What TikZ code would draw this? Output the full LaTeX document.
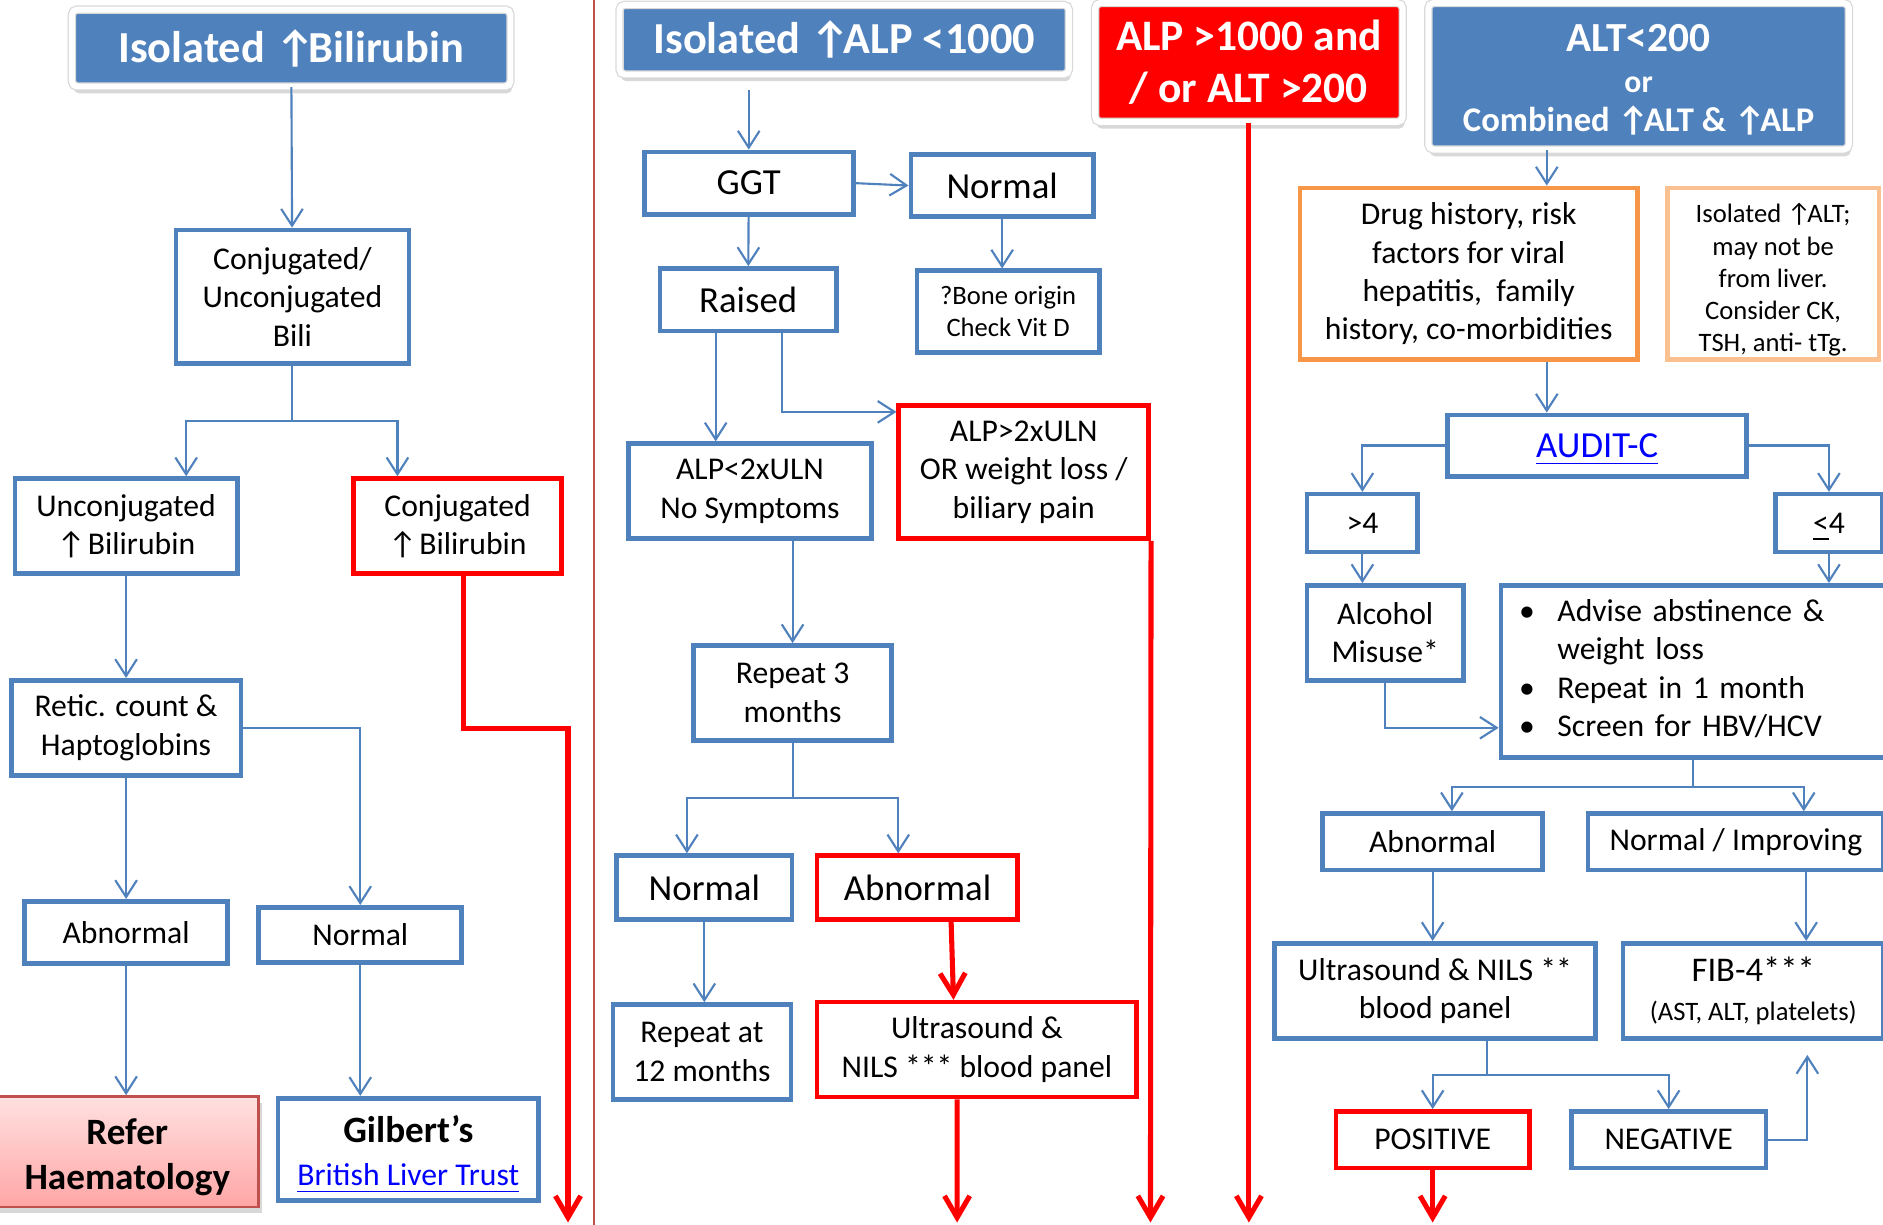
\documentclass[tikz,border=0pt]{standalone}
\usepackage{fontspec}
\setmainfont{Carlito}
\usetikzlibrary{arrows.meta,shadows,calc}

\definecolor{obblue}{RGB}{79,129,189}
\definecolor{hired}{RGB}{255,0,0}
\definecolor{ordark}{RGB}{247,150,70}
\definecolor{orlight}{RGB}{250,192,144}
\definecolor{divred}{RGB}{192,80,77}
\definecolor{linkblue}{RGB}{0,0,255}

\newcommand\szreg{\fontsize{7.5}{9.1}\selectfont}
\newcommand\szmid{\fontsize{8.7}{10.4}\selectfont}
\newcommand\szsml{\fontsize{6.3}{7.6}\selectfont}
\newcommand\szbld{\fontsize{8.8}{10.5}\selectfont\bfseries}
\newcommand\szhdr{\fontsize{10.5}{12.3}\selectfont\bfseries}
\newcommand\uarr{↑\kern-0.15em}

\begin{document}
\begin{tikzpicture}[x=0.01cm,y=-0.01cm]
  \tikzstyle{box}=[draw=obblue,line width=1.1pt,fill=white,align=center,inner sep=0pt,font=\szreg]
  \tikzstyle{rbox}=[box,draw=hired]
  \tikzstyle{hdr}=[fill=obblue,draw=black!15,double=white,double distance=1.4pt,line width=0.3pt,rounded corners=1.2pt,
    text=white,align=center,inner sep=0pt,font=\szhdr,
    drop shadow={shadow xshift=0.4pt,shadow yshift=-1.6pt,opacity=0.3}]
  \tikzstyle{ln}=[draw=obblue,line width=0.5pt]
  \tikzstyle{arr}=[ln,-{Straight Barb[length=1.4mm,width=1.8mm]}]
  \tikzstyle{rarr}=[draw=hired,line width=1.2pt,-{Straight Barb[length=1.8mm,width=2.1mm]}]

  \useasboundingbox (0,0) rectangle (1568,1020);
  \fill[white] (0,0) rectangle (1568,1020);
  \clip (0,0) rectangle (1568,1020);

  % bilirubin column
  \node[hdr,minimum width=3.65cm,minimum height=0.64cm] (tBili) at (242.5,40) {Isolated \uarr Bilirubin};
  \node[box,minimum width=1.94cm,minimum height=1.11cm] (cub) at (243.5,247) {Conjugated/\\Unconjugated\\Bili};
  \node[box,minimum width=1.85cm,minimum height=0.79cm] (unc) at (105,438) {Unconjugated\\\uarr{} Bilirubin};
  \node[rbox,minimum width=1.73cm,minimum height=0.79cm] (con) at (381,438) {Conjugated\\\uarr{} Bilirubin};
  \node[box,minimum width=1.91cm,minimum height=0.79cm] (ret) at (105,606) {Retic. count \&\\Haptoglobins};
  \node[box,minimum width=1.69cm,minimum height=0.52cm] (abnL) at (105,776.5) {Abnormal};
  \node[box,minimum width=1.69cm,minimum height=0.46cm] (norL) at (300,778.5) {Normal};
  \node[draw=divred,line width=0.6pt,top color=red!12,bottom color=red!35,align=center,inner sep=0pt,font=\szbld,
    minimum width=2.18cm,minimum height=0.92cm,drop shadow={shadow xshift=0.8pt,shadow yshift=-1.5pt,opacity=0.3}]
    (refer) at (106,959) {\mbox{}\\[-1.8pt]Refer\\Haematology};
  \node[box,minimum width=2.17cm,minimum height=0.85cm] (gil) at (340,957)
    {\mbox{}\\[-0.1pt]{\szbld Gilbert’s}\\[1pt]{\color{linkblue}\underline{British Liver Trust}}};

  \draw[arr] (tBili) -- (cub);
  \draw[ln] (cub.south) -- ++(0,46) coordinate (s1);
  \draw[arr] (s1) -| ([xshift=5mm]unc.north);
  \draw[arr] (s1) -| ([xshift=-5mm]con.north);
  \draw[arr] (unc) -- (ret);
  \draw[arr] (ret.east) -| (norL.north);
  \draw[arr] (ret) -- (abnL);
  \draw[arr] (abnL.south) -- (abnL.south |- refer.north);
  \draw[arr] (norL.south) -- (norL.south |- gil.north);
  \coordinate (eL) at (473,1018);
  \draw[rarr] ([xshift=0.5mm]con.south) -- ++(0,127) -| (eL);

  \draw[divred,line width=0.5pt] (495,0) -- (495,1020);

  % ALP column
  \node[hdr,minimum width=3.74cm,minimum height=0.58cm] (tALP) at (703,33) {Isolated \uarr ALP <1000};
  \node[box,font=\szmid,minimum width=1.74cm,minimum height=0.52cm] (ggt) at (623.5,152.5) {GGT};
  \node[box,font=\szmid,minimum width=1.52cm,minimum height=0.52cm] (norA) at (834.5,154.5) {Normal};
  \node[box,font=\szsml,minimum width=1.52cm,minimum height=0.68cm] (bone) at (839.5,259.5) {?Bone origin\\Check Vit D};
  \node[box,font=\szmid,minimum width=1.47cm,minimum height=0.52cm] (rai) at (623,249.5) {Raised};
  \node[box,minimum width=2.02cm,minimum height=0.79cm] (alpl) at (624.5,409) {ALP<2xULN\\No Symptoms};
  \node[rbox,minimum width=2.08cm,minimum height=1.11cm] (alph) at (852.5,393) {ALP>2xULN\\OR weight loss /\\biliary pain};
  \node[box,minimum width=1.65cm,minimum height=0.79cm] (rep3) at (660,577) {Repeat 3\\months};
  \node[box,font=\szmid,minimum width=1.46cm,minimum height=0.53cm] (norM) at (586.5,739) {Normal};
  \node[rbox,font=\szmid,minimum width=1.67cm,minimum height=0.53cm] (abnM) at (764,739) {Abnormal};
  \node[box,minimum width=1.48cm,minimum height=0.79cm] (rep12) at (584.5,876) {Repeat at\\12 months};
  \node[rbox,minimum width=2.66cm,minimum height=0.79cm] (usM) at (813.5,874) {Ultrasound \&\\NILS *** blood panel};

  \draw[arr] ($(ggt.north |- tALP.south)+(0,12)$) -- (ggt.north);
  \draw[arr] (ggt.east) -- (norA.west);
  \draw[arr] (norA.south) -- (norA.south |- bone.north);
  \draw[arr] (ggt) -- (rai);
  \draw[arr] ([xshift=-2.7mm]rai.south) -- ([xshift=-2.7mm]rai.south |- alpl.north);
  \draw[arr] ([xshift=2.8mm]rai.south) |- ([yshift=5mm]alph.west);
  \draw[arr] (alpl.south -| rep3.north) -- (rep3.north);
  \draw[ln] (rep3.south) -- ++(0,46) coordinate (s2);
  \draw[arr] (s2) -| ([xshift=-1.45mm]norM.north);
  \draw[arr] (s2) -| ([xshift=-1.6mm]abnM.north);
  \draw[arr] (norM.south) -- (norM.south |- rep12.north);
  \draw[rarr] ([xshift=2.8mm]abnM.south) -- ([xshift=-1.95mm]usM.north);
  \coordinate (eU) at (797,1018);
  \draw[rarr] ([xshift=-1.65mm]usM.south) -- (eU);
  \coordinate (eA) at (958,1018);
  \draw[rarr] (alph.south east) -- (eA);

  % high values
  \node[hdr,fill=hired,font=\fontsize{10.3}{12.4}\selectfont\bfseries,minimum width=2.56cm,minimum height=0.99cm]
    (tHigh) at (1040,52) {ALP >1000 and\\/ or ALT >200};
  \coordinate (eH) at (1040,1018);
  \draw[rarr] (tHigh.south) -- (eH);

  % ALT column
  \node[hdr,minimum width=3.5cm,minimum height=1.22cm] (tALT) at (1364.5,63.5)
    {\mbox{}\\[-4.3pt]{\fontsize{9.8}{11}\selectfont ALT<200}\\[-2.6pt]{\fontsize{7.5}{9}\selectfont or}\\[-3.2pt]{\fontsize{8.2}{9.5}\selectfont Combined \uarr ALT \& \uarr ALP}};
  \node[box,draw=ordark,minimum width=2.81cm,minimum height=1.43cm] (drug) at (1223,228)
    {Drug history, risk\\factors for viral\\hepatitis,\ \ family\\history, co-morbidities};
  \node[box,draw=orlight,font=\szsml,minimum width=1.76cm,minimum height=1.43cm] (iso) at (1476.5,228)
    {\mbox{}\\[-0.2pt]Isolated \uarr ALT;\\may not be\\from liver.\\Consider CK,\\TSH, anti- tTg.};
  \node[box,font=\szmid,text depth=0pt,minimum width=2.49cm,minimum height=0.51cm] (aud) at (1330,371) {\color{linkblue}\underline{AUDIT-C}};
  \node[box,minimum width=0.92cm,minimum height=0.48cm] (gt4) at (1134.5,435.5) {>4};
  \node[box,text depth=0pt,minimum width=0.89cm,minimum height=0.48cm] (le4) at (1523,435.5) {\underline{<}4};
  \node[box,minimum width=1.3cm,minimum height=0.79cm] (alc) at (1153.5,527) {Alcohol\\Misuse*};
  \node[box,text width=3.0cm,inner xsep=1.5mm,minimum height=1.43cm,align=left] (adv) at (1415,559)
    {\begin{tabular}{@{}p{3.2mm}@{}l@{}}\textbullet & Advise abstinence \&\\ & weight loss\\
      \textbullet & Repeat in 1 month\\ \textbullet & Screen for HBV/HCV\end{tabular}};
  \node[box,minimum width=1.83cm,minimum height=0.47cm] (abnR) at (1193,701) {Abnormal};
  \node[box,minimum width=2.46cm,minimum height=0.47cm] (nimp) at (1445.5,701) {Normal / Improving};
  \node[box,minimum width=2.67cm,minimum height=0.79cm] (usR) at (1195,825) {Ultrasound \& NILS **\\blood panel};
  \node[box,minimum width=2.17cm,minimum height=0.79cm] (fib) at (1460,825)
    {{\fontsize{8.2}{9.5}\selectfont FIB-4***}\\{\szsml (AST, ALT, platelets)}};
  \node[rbox,minimum width=1.61cm,minimum height=0.47cm] (pos) at (1193,949) {POSITIVE};
  \node[box,minimum width=1.62cm,minimum height=0.47cm] (neg) at (1389.5,949) {NEGATIVE};

  \draw[arr] ([xshift=6.5mm]drug.north |- tALT.south) -- ([xshift=6.5mm]drug.north);
  \draw[arr] ([xshift=6.5mm]drug.south) -- ([xshift=6.5mm]drug.south |- aud.north);
  \draw[arr] (aud.west) -| (gt4.north);
  \draw[arr] (aud.east) -| (le4.north);
  \draw[arr] (gt4.south) -- (gt4.south |- alc.north);
  \draw[arr] (le4.south) -- (le4.south |- adv.north);
  \draw[arr] (alc.south) |- ([yshift=-4.7mm]adv.west);
  \draw[ln] ([xshift=-0.5mm]adv.south) -- ++(0,23) coordinate (s3);
  \draw[arr] (s3) -| ([xshift=1.6mm]abnR.north);
  \draw[arr] (s3) -| ([xshift=5.65mm]nimp.north);
  \draw[arr] (abnR.south) -- (abnR.south |- usR.north);
  \draw[arr] ([xshift=5.85mm]nimp.south) -- ([xshift=5.85mm]nimp.south |- fib.north);
  \draw[ln] ([xshift=4.3mm]usR.south) -- ++(0,29) coordinate (s4);
  \draw[arr] (s4) -| (pos.north);
  \draw[arr] (s4) -| (neg.north);
  \draw[arr] (neg.east) -| ([xshift=4.5mm,yshift=-1.2mm]fib.south);
  \coordinate (eP) at (1193,1018);
  \draw[rarr] (pos.south) -- (eP);
\end{tikzpicture}
\end{document}
